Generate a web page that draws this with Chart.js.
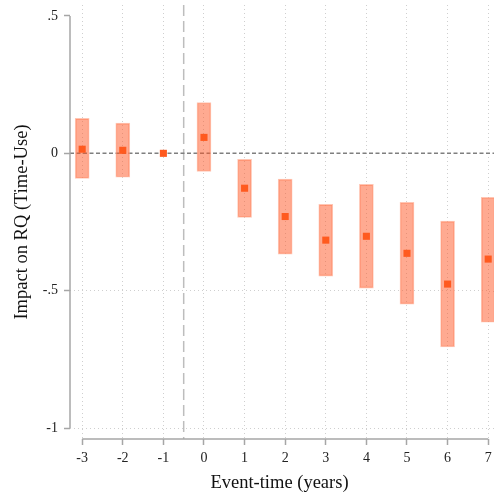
<!DOCTYPE html>
<html>
<head>
<meta charset="utf-8">
<script src="https://cdn.jsdelivr.net/npm/chart.js@4/dist/chart.umd.min.js"></script>
<style>
  html, body { margin: 0; padding: 0; background: #fff; }
  #wrap { width: 494px; height: 498px; position: relative; }
</style>
</head>
<body>
<div id="wrap"><canvas id="chart"></canvas></div>
<script>
// event-time in years relative to the event
const eventTimes = [-3, -2, -1, 0, 1, 2, 3, 4, 5, 6, 7];
// point estimates and 95% confidence bounds
const estimates = [0.015, 0.011, 0, 0.058, -0.127, -0.230, -0.316, -0.302, -0.364, -0.476, -0.385];
const ciLow = [-0.091, -0.087, 0, -0.066, -0.233, -0.367, -0.447, -0.491, -0.549, -0.705, -0.615];
const ciHigh = [0.127, 0.110, 0, 0.185, -0.022, -0.094, -0.186, -0.113, -0.178, -0.247, -0.160];
const yTicks = [-1, -0.5, 0, 0.5];
const yTickLabels = ['-1', '-.5', '0', '.5'];

const serif = "'Liberation Serif', 'Times New Roman', serif";

// dashed reference lines (zero effect and event onset) plus the clipped axis lines
const refLines = {
  id: 'refLines',
  beforeDatasetsDraw(chart) {
    const { ctx, chartArea: a, scales: { x, y } } = chart;
    ctx.save();
    ctx.lineWidth = 1;
    // dotted horizontal grid carried out to the canvas edge
    ctx.strokeStyle = '#cfcfcf';
    ctx.setLineDash([1, 3]);
    [-1, -0.5].forEach(v => {
      const yy = Math.round(y.getPixelForValue(v)) + 0.5;
      ctx.beginPath(); ctx.moveTo(a.right, yy); ctx.lineTo(chart.width, yy); ctx.stroke();
    });
    ctx.lineWidth = 1.5;
    // event onset between -1 and 0
    ctx.strokeStyle = '#bdbdbd';
    ctx.setLineDash([11, 5]);
    const xe = x.getPixelForValue(-0.5);
    ctx.beginPath(); ctx.moveTo(xe, a.top); ctx.lineTo(xe, a.bottom); ctx.stroke();
    // zero line
    ctx.strokeStyle = '#7f7f7f';
    ctx.setLineDash([4, 2.5]);
    const y0 = y.getPixelForValue(0);
    ctx.beginPath(); ctx.moveTo(a.left, y0); ctx.lineTo(chart.width, y0); ctx.stroke();
    ctx.restore();
  },
  afterDraw(chart) {
    const { ctx, chartArea: a, scales: { x, y } } = chart;
    ctx.save();
    ctx.strokeStyle = '#a6a6a6';
    ctx.lineWidth = 1.5;
    ctx.beginPath();
    ctx.moveTo(a.left, y.getPixelForValue(yTicks[0]));
    ctx.lineTo(a.left, y.getPixelForValue(yTicks[yTicks.length - 1]));
    ctx.moveTo(x.getPixelForValue(eventTimes[0]), a.bottom);
    ctx.lineTo(x.getPixelForValue(eventTimes[eventTimes.length - 1]), a.bottom);
    ctx.stroke();
    ctx.restore();
  }
};

// drop the half-label padding Chart.js reserves at the scale ends
const noEndPadding = s => {
  s.paddingTop = 0; s.paddingBottom = 0;
  s.paddingLeft = 0; s.paddingRight = 0;
};

new Chart(document.getElementById('chart'), {
  data: {
    datasets: [
      {
        type: 'scatter',
        label: 'Estimate',
        data: eventTimes.map((t, i) => ({ x: t, y: estimates[i] })),
        pointStyle: 'rect',
        pointRadius: 5,
        pointBackgroundColor: '#ff5a1f',
        pointBorderColor: '#ff5a1f',
        pointBorderWidth: 0,
        clip: false,
        order: 0
      },
      {
        type: 'bar',
        label: '95% CI',
        data: eventTimes.map((t, i) => ({ x: t, y: [ciLow[i], ciHigh[i]] })),
        backgroundColor: 'rgba(255, 85, 35, 0.5)',
        borderColor: 'rgba(255, 160, 130, 0.6)',
        borderWidth: 1,
        borderSkipped: false,
        barThickness: 14,
        clip: false,
        order: 1
      }
    ]
  },
  options: {
    responsive: true,
    maintainAspectRatio: false,
    animation: false,
    layout: { padding: { top: 5, right: 0, left: 0, bottom: 0 } },
    plugins: {
      legend: { display: false },
      tooltip: { enabled: false }
    },
    scales: {
      x: {
        type: 'linear',
        offset: false,
        min: -3.3,
        max: 7.02,
        afterBuildTicks: s => { s.ticks = eventTimes.map(v => ({ value: v })); },
        afterFit: s => { s.height = 59; noEndPadding(s); },
        border: { display: false, dash: [1, 3] },
        grid: {
          offset: false,
          color: '#cfcfcf',
          lineWidth: 1,
          tickColor: '#a6a6a6',
          tickLength: 6,
          tickWidth: 1.5
        },
        ticks: {
          color: '#222',
          padding: 5,
          maxRotation: 0,
          font: { family: serif, size: 14 },
          callback: v => String(v)
        },
        title: {
          display: true,
          text: 'Event-time (years)',
          color: '#111',
          font: { family: serif, size: 18.5 },
          padding: { top: 0, bottom: 4 }
        }
      },
      y: {
        type: 'linear',
        min: -1.04,
        max: 0.54,
        afterBuildTicks: s => { s.ticks = yTicks.map(v => ({ value: v })); },
        afterFit: s => { s.width = 70; noEndPadding(s); },
        border: { display: false, dash: [1, 3] },
        grid: {
          color: ctx => (ctx.tick && (ctx.tick.value === 0 || ctx.tick.value === 0.5)) ? 'rgba(0,0,0,0)' : '#cfcfcf',
          lineWidth: 1,
          tickColor: '#a6a6a6',
          tickLength: 6,
          tickWidth: 1.5
        },
        ticks: {
          color: '#222',
          padding: 6,
          font: { family: serif, size: 14 },
          callback: v => yTickLabels[yTicks.indexOf(v)]
        },
        title: {
          display: true,
          text: 'Impact on RQ (Time-Use)',
          color: '#111',
          font: { family: serif, size: 18.5 },
          padding: { top: 11, bottom: 0 }
        }
      }
    }
  },
  plugins: [refLines]
});
</script>
</body>
</html>
